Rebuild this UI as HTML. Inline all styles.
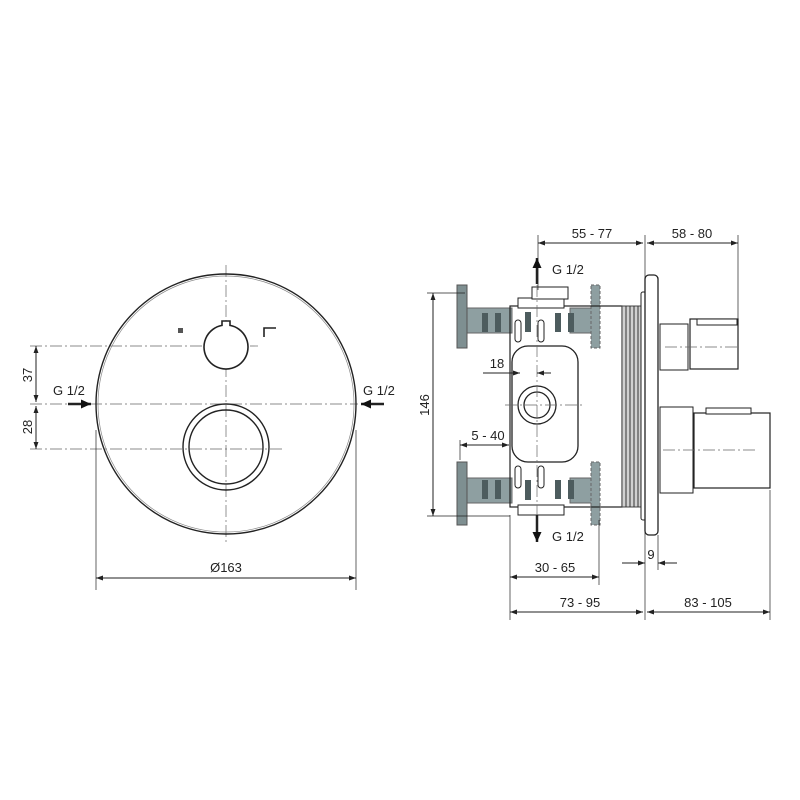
<!DOCTYPE html>
<html><head><meta charset="utf-8"><style>html,body{margin:0;padding:0;background:#fff}svg{display:block}</style></head>
<body>
<svg width="800" height="800" viewBox="0 0 800 800" xmlns="http://www.w3.org/2000/svg" font-family="Liberation Sans, sans-serif" font-size="13" fill="none" stroke="#222">
<defs>
<marker id="a" viewBox="0 0 10 10" refX="10" refY="5" markerWidth="9" markerHeight="7" orient="auto-start-reverse" markerUnits="userSpaceOnUse"><path d="M0,1.5 L10,5 L0,8.5 z" fill="#222" stroke="none"/></marker>
<marker id="b" viewBox="0 0 10 10" refX="10" refY="5" markerWidth="11" markerHeight="10" orient="auto-start-reverse" markerUnits="userSpaceOnUse"><path d="M0,0.5 L10,5 L0,9.5 z" fill="#111" stroke="none"/></marker>
</defs>
<!-- LEFT VIEW -->
<g stroke-width="1">
<line x1="226" y1="265" x2="226" y2="545" stroke="#666" stroke-width="0.7" stroke-dasharray="12,3,2,3"/>
<line x1="30" y1="346" x2="258" y2="346" stroke="#666" stroke-width="0.7" stroke-dasharray="12,3,2,3"/>
<line x1="30" y1="404" x2="358" y2="404" stroke="#666" stroke-width="0.7" stroke-dasharray="12,3,2,3"/>
<line x1="30" y1="449" x2="282" y2="449" stroke="#666" stroke-width="0.7" stroke-dasharray="12,3,2,3"/>
<circle cx="226" cy="404" r="130" stroke-width="1.4"/>
<circle cx="226" cy="404" r="128" stroke="#888" stroke-width="0.7"/>
<path d="M222,325.4 A22,22 0 1 0 230,325.4 L230,321 L222,321 Z" stroke-width="1.6" fill="#fff"/>
<circle cx="226" cy="447" r="43" stroke-width="1.4"/>
<circle cx="226" cy="447" r="37" stroke-width="1.4"/>
<rect x="178" y="328" width="5" height="5" fill="#555" stroke="none"/>
<path d="M264,337 V328 H276" stroke-width="1.6"/>
<line x1="36" y1="346" x2="36" y2="402" marker-start="url(#a)" marker-end="url(#a)"/>
<line x1="36" y1="406" x2="36" y2="449" marker-start="url(#a)" marker-end="url(#a)"/>
<line x1="96" y1="430" x2="96" y2="590" stroke-width="0.7"/>
<line x1="356" y1="430" x2="356" y2="590" stroke-width="0.7"/>
<line x1="96" y1="578" x2="356" y2="578" marker-start="url(#a)" marker-end="url(#a)"/>
<line x1="68" y1="404" x2="91" y2="404" stroke-width="2.5" marker-end="url(#b)"/>
<line x1="384" y1="404" x2="361" y2="404" stroke-width="2.5" marker-end="url(#b)"/>
</g>
<g fill="#222" stroke="none">
<text x="53" y="395">G 1/2</text>
<text x="363" y="395">G 1/2</text>
<text x="32" y="375" transform="rotate(-90 32 375)" text-anchor="middle">37</text>
<text x="32" y="427" transform="rotate(-90 32 427)" text-anchor="middle">28</text>
<text x="226" y="572" text-anchor="middle">Ø163</text>
</g>
<!-- RIGHT VIEW -->
<g stroke-width="1">
<rect x="467" y="308" width="45" height="25" fill="#8e9fa1" stroke="#666"/>
<rect x="467" y="478" width="45" height="25" fill="#8e9fa1" stroke="#666"/>
<rect x="570" y="308" width="22" height="25" fill="#8e9fa1" stroke="#666"/>
<rect x="570" y="478" width="22" height="25" fill="#8e9fa1" stroke="#666"/>
<rect x="457" y="285" width="10" height="63" fill="#7e8f91" stroke="#555"/>
<rect x="457" y="462" width="10" height="63" fill="#7e8f91" stroke="#555"/>
<rect x="591" y="285" width="9" height="63" fill="#8e9fa1" stroke="#666" stroke-dasharray="3,2"/>
<rect x="591" y="462" width="9" height="63" fill="#8e9fa1" stroke="#666" stroke-dasharray="3,2"/>
<g fill="#4d5c5e" stroke="none">
<rect x="482" y="313" width="6" height="19"/><rect x="495" y="313" width="6" height="19"/>
<rect x="482" y="480" width="6" height="19"/><rect x="495" y="480" width="6" height="19"/>
<rect x="555" y="313" width="6" height="19"/><rect x="568" y="313" width="6" height="19"/>
<rect x="555" y="480" width="6" height="19"/><rect x="568" y="480" width="6" height="19"/>
<rect x="525" y="312" width="6" height="20"/><rect x="525" y="480" width="6" height="20"/>
</g>
<rect x="510" y="306" width="112" height="201" fill="none" stroke-width="1.2"/>
<rect x="518" y="298" width="46" height="10" fill="#fff"/>
<rect x="532" y="287" width="36" height="12" fill="#fff"/>
<rect x="518" y="505" width="46" height="10" fill="#fff"/>
<rect x="512" y="346" width="66" height="116" rx="16" fill="#fff" stroke-width="1.3"/>
<rect x="515" y="320" width="6" height="22" rx="3"/><rect x="538" y="320" width="6" height="22" rx="3"/>
<rect x="515" y="466" width="6" height="22" rx="3"/><rect x="538" y="466" width="6" height="22" rx="3"/>
<circle cx="537" cy="405" r="19" stroke-width="1.3"/>
<circle cx="537" cy="405" r="13" stroke-width="1.3"/>
<line x1="537" y1="285" x2="537" y2="525" stroke="#666" stroke-width="0.7" stroke-dasharray="12,3,2,3"/>
<line x1="505" y1="405" x2="582" y2="405" stroke="#666" stroke-width="0.7" stroke-dasharray="12,3,2,3"/>
<rect x="622" y="306" width="19" height="201" fill="#d0d0d0" stroke="#444"/>
<g stroke="#333" stroke-width="1"><line x1="626" y1="306" x2="626" y2="507"/><line x1="630" y1="306" x2="630" y2="507"/><line x1="634" y1="306" x2="634" y2="507"/><line x1="638" y1="306" x2="638" y2="507"/></g>
<rect x="641" y="292" width="5" height="228" rx="2" fill="#fff"/>
<rect x="645" y="275" width="13" height="260" rx="4" fill="#fff" stroke-width="1.3"/>
<rect x="660" y="324" width="28" height="46" fill="#fff"/>
<rect x="690" y="319" width="48" height="50" fill="#fff" stroke-width="1.2"/>
<rect x="697" y="319" width="40" height="6" fill="#fff"/>
<line x1="665" y1="347" x2="738" y2="347" stroke="#666" stroke-width="0.7" stroke-dasharray="12,3,2,3"/>
<rect x="660" y="407" width="33" height="86" fill="#fff"/>
<rect x="694" y="413" width="76" height="75" fill="#fff" stroke-width="1.2"/>
<rect x="706" y="408" width="45" height="6" fill="#fff"/>
<line x1="663" y1="450" x2="758" y2="450" stroke="#666" stroke-width="0.7" stroke-dasharray="12,3,2,3"/>
<line x1="538" y1="235" x2="538" y2="290" stroke-width="0.7"/>
<line x1="645" y1="235" x2="645" y2="620" stroke-width="0.7"/>
<line x1="738" y1="235" x2="738" y2="320" stroke-width="0.7"/>
<line x1="538" y1="243" x2="643" y2="243" marker-start="url(#a)" marker-end="url(#a)"/>
<line x1="647" y1="243" x2="738" y2="243" marker-start="url(#a)" marker-end="url(#a)"/>
<line x1="427" y1="293" x2="465" y2="293" stroke-width="0.7"/>
<line x1="427" y1="516" x2="510" y2="516" stroke-width="0.7"/>
<line x1="433" y1="293" x2="433" y2="516" marker-start="url(#a)" marker-end="url(#a)"/>
<line x1="483" y1="373" x2="520" y2="373" marker-end="url(#a)"/>
<line x1="551" y1="373" x2="537" y2="373" marker-end="url(#a)"/>
<line x1="460" y1="440" x2="460" y2="460" stroke-width="0.7"/>
<line x1="460" y1="445" x2="509" y2="445" marker-start="url(#a)" marker-end="url(#a)"/>
<line x1="510" y1="515" x2="510" y2="620" stroke-width="0.7"/>
<line x1="599" y1="520" x2="599" y2="585" stroke-width="0.7"/>
<line x1="658" y1="535" x2="658" y2="570" stroke-width="0.7"/>
<line x1="770" y1="490" x2="770" y2="620" stroke-width="0.7"/>
<line x1="622" y1="563" x2="645" y2="563" marker-end="url(#a)"/>
<line x1="677" y1="563" x2="658" y2="563" marker-end="url(#a)"/>
<line x1="510" y1="577" x2="599" y2="577" marker-start="url(#a)" marker-end="url(#a)"/>
<line x1="510" y1="612" x2="643" y2="612" marker-start="url(#a)" marker-end="url(#a)"/>
<line x1="647" y1="612" x2="770" y2="612" marker-start="url(#a)" marker-end="url(#a)"/>
<line x1="537" y1="284" x2="537" y2="258" stroke-width="2.5" marker-end="url(#b)"/>
<line x1="537" y1="515" x2="537" y2="542" stroke-width="2.5" marker-end="url(#b)"/>
</g>
<g fill="#222" stroke="none">
<text x="592" y="238" text-anchor="middle">55 - 77</text>
<text x="692" y="238" text-anchor="middle">58 - 80</text>
<text x="552" y="274">G 1/2</text>
<text x="552" y="541">G 1/2</text>
<text x="497" y="368" text-anchor="middle">18</text>
<text x="488" y="440" text-anchor="middle">5 - 40</text>
<text x="651" y="559" text-anchor="middle">9</text>
<text x="555" y="572" text-anchor="middle">30 - 65</text>
<text x="580" y="607" text-anchor="middle">73 - 95</text>
<text x="708" y="607" text-anchor="middle">83 - 105</text>
<text x="429" y="405" transform="rotate(-90 429 405)" text-anchor="middle">146</text>
</g>
</svg>
</body></html>
